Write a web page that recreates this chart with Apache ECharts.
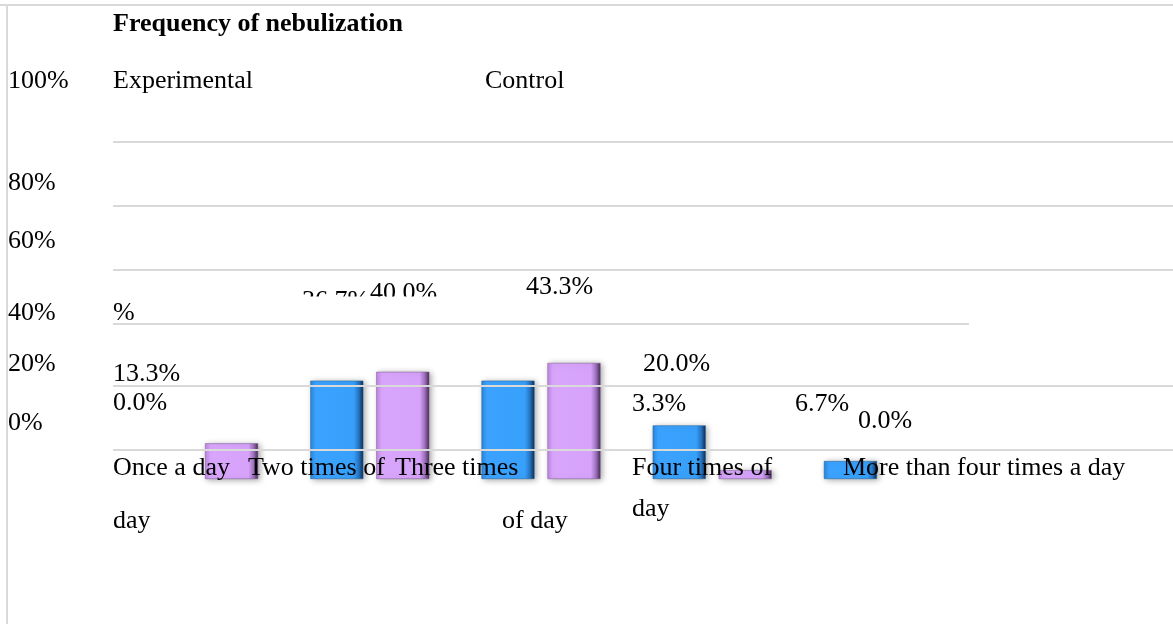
<!DOCTYPE html>
<html>
<head>
<meta charset="utf-8">
<script src="https://cdn.jsdelivr.net/npm/echarts@6/dist/echarts.min.js"></script>
<style>
html,body{margin:0;padding:0;background:#fff;}
#chart{width:1173px;height:624px;}
</style>
</head>
<body>
<div id="chart"></div>
<script>
// ---- data ----
var title = 'Frequency of nebulization';
var categories = ['Once a day', 'Two times of day', 'Three times of day', 'Four times of day', 'More than four times a day'];
var seriesNames = ['Experimental', 'Control'];
var experimental = [0.0, 36.7, 36.7, 20.0, 6.7];
var control = [13.3, 40.0, 43.3, 3.3, 0.0];
var tickLabels = ['100%', '80%', '60%', '40%', '20%', '0%'];

function pct(v) { return v.toFixed(1) + '%'; }

// ---- layout (positions / styles only) ----
var FONT = '"Liberation Serif", "Times New Roman", serif';
var FS = 26;
var GRID_COLOR = '#d9d9d9';
var tickY = [81, 183.5, 241.5, 313.5, 364.5, 423.5];
var gridLinesY = [142, 206, 270, 386, 450];

var graphics = [];
function addText(str, x, y, opts) {
  opts = opts || {};
  graphics.push({
    type: 'text', x: x, y: y, z: opts.z || 50, silent: true,
    style: {
      text: str, fill: '#000', font: (opts.bold ? 'bold ' : '') + FS + 'px ' + FONT,
      textAlign: 'left', textVerticalAlign: 'middle'
    }
  });
}
function addLine(x1, y1, x2, y2) {
  graphics.push({
    type: 'line', z: 60, silent: true,
    shape: { x1: x1, y1: y1, x2: x2, y2: y2 },
    style: { stroke: GRID_COLOR, lineWidth: 2 }
  });
}

// frame lines
addLine(0, 5, 1173, 5);
addLine(7, 5, 7, 624);
gridLinesY.forEach(function (y) { addLine(113, y, 1173, y); });
addLine(113, 324, 969, 324);

// title and legend texts
addText(title, 113, 24, { bold: true });
addText(seriesNames[0], 113, 81);
addText(seriesNames[1], 485, 81);

// tick labels
tickLabels.forEach(function (t, i) { addText(t, 8, tickY[i]); });

// value labels (as they appear, scattered)
addText(pct(experimental[1]), 302, 301.5, { z: 40 });
addText(pct(control[1]), 370, 293.5, { z: 40 });
// mask clipping bottom of the two labels above
graphics.push({ type: 'rect', z: 45, silent: true, shape: { x: 296, y: 296.5, width: 150, height: 22 }, style: { fill: '#fff' } });
addText('%', 113, 313.5);
addText(pct(control[2]), 526, 287.5);
addText(pct(control[0]), 113, 374.5);
addText(pct(experimental[0]), 113, 403.5);
addText(pct(experimental[3]), 643, 364.5);
addText(pct(control[3]), 632, 404.5);
addText(pct(experimental[4]), 795, 404);
addText(pct(control[4]), 858, 421.5);

// category texts (wrapped as in the picture)
addText('Once a day', 113, 468);
addText('day', 113, 521);
addText('Two times of', 248, 468);
addText('Three times', 395, 468);
addText('of day', 502, 521.5);
addText('Four times of', 632, 468);
addText('day', 632, 509);
addText(categories[4], 843, 468);

function grad(stops) {
  return new echarts.graphic.LinearGradient(0, 0, 1, 0, stops.map(function (s) { return { offset: s[0], color: s[1] }; }));
}
var blue = grad([[0, '#2a86dc'], [0.1, '#3ba3ff'], [0.82, '#37a0fb'], [0.92, '#2570bc'], [1, '#0e2b4b']]);
var purple = grad([[0, '#c185e6'], [0.1, '#d9a6fc'], [0.82, '#d6a2fa'], [0.92, '#9a6cb8'], [1, '#3e2a4c']]);

function items(arr) {
  return arr.map(function (v) { return v === 0 ? { value: v, itemStyle: { opacity: 0 } } : v; });
}

var chart = echarts.init(document.getElementById('chart'), null, { renderer: 'canvas' });
chart.setOption({
  animation: false,
  backgroundColor: '#fff',
  grid: { left: 113, right: 204, top: 211, bottom: 145, containLabel: false },
  xAxis: { type: 'category', data: categories, show: false },
  yAxis: { type: 'value', min: 0, max: 100, show: false, splitLine: { show: false } },
  series: [
    {
      name: seriesNames[0], type: 'bar', data: items(experimental), barWidth: 53, barGap: '24.5%', z: 2,
      itemStyle: { color: blue, borderColor: '#1f5f9a', borderWidth: 0.5, shadowBlur: 6, shadowColor: 'rgba(0,0,0,0.35)', shadowOffsetX: 2, shadowOffsetY: 1 }
    },
    {
      name: seriesNames[1], type: 'bar', data: items(control), barWidth: 53, z: 2,
      itemStyle: { color: purple, borderColor: '#7a5690', borderWidth: 0.5, shadowBlur: 6, shadowColor: 'rgba(0,0,0,0.35)', shadowOffsetX: 2, shadowOffsetY: 1 }
    }
  ],
  graphic: { elements: graphics }
});
</script>
</body>
</html>
